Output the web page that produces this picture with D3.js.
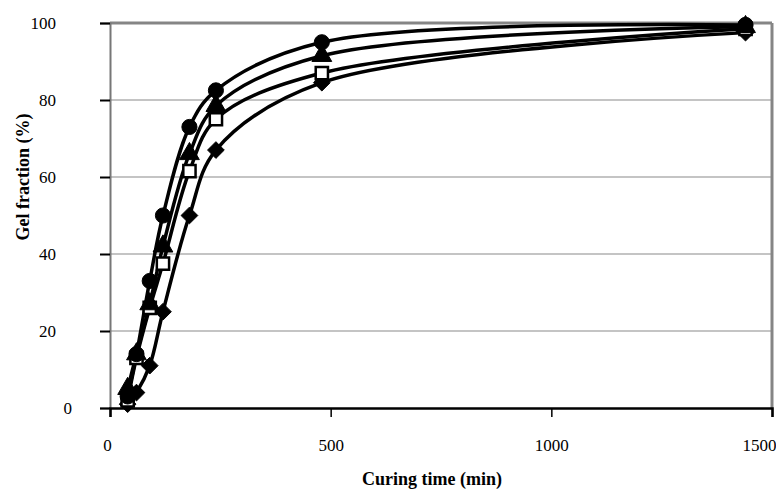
<!DOCTYPE html>
<html>
<head>
<meta charset="utf-8">
<script src="https://cdn.jsdelivr.net/npm/d3@7"></script>
<style>
  body { margin: 0; background: #fff; }
  svg { display: block; }
</style>
</head>
<body>
<div id="canvas"></div>
<script>
const width = 776;
const height = 489;

// curing times (min) shared by all four series
var times = [40, 60, 90, 120, 180, 240, 480, 1440];

var circleVals = [3, 14, 33, 50, 73, 82.5, 95, 99.5];
var triangleVals = [5, 14, 27, 42, 66, 78.5, 91.5, 99];
var squareVals = [2, 13, 26, 37.5, 61.5, 75, 87, 98.5];
var diamondVals = [1, 4, 11, 25, 50, 67, 84.5, 97.5];

var xTicks = [0, 500, 1000, 1500];
var yTicks = [0, 20, 40, 60, 80, 100];

const margin = { left: 110, right: 4, top: 23, bottom: 81 };

const svg = d3.select("#canvas")
    .append("svg")
    .attr("width", width)
    .attr("height", height)
    .style("font-family", "'Liberation Serif', 'Times New Roman', serif");

var x = d3.scaleLinear().domain([0, 1500]).range([margin.left, 772]);
var y = d3.scaleLinear().domain([0, 100]).range([408, margin.top]);

// gridlines
svg.append("g")
    .selectAll("line")
    .data(yTicks.filter(d => d > 0 && d < 100))
    .join("line")
    .attr("x1", x(0))
    .attr("x2", x(1500))
    .attr("y1", d => y(d))
    .attr("y2", d => y(d))
    .attr("stroke", "#c4c4c4")
    .attr("stroke-width", 2);

// plot frame (top and right grey)
svg.append("line")
    .attr("x1", x(0)).attr("x2", x(1500))
    .attr("y1", y(100)).attr("y2", y(100))
    .attr("stroke", "#858585").attr("stroke-width", 3);
svg.append("line")
    .attr("x1", x(1500)).attr("x2", x(1500))
    .attr("y1", y(100)).attr("y2", y(0))
    .attr("stroke", "#858585").attr("stroke-width", 3);

// y axis
var yAxis = svg.append("g")
    .attr("transform", `translate(${x(0)},0)`)
    .call(d3.axisLeft(y).tickValues(yTicks).tickSize(10).tickPadding(44).tickFormat(d3.format("d")));
yAxis.select(".domain").attr("stroke", "#777").attr("stroke-width", 2);
yAxis.selectAll(".tick line").attr("stroke", "#000").attr("stroke-width", 2);
yAxis.selectAll(".tick text")
    .attr("font-family", "'Liberation Serif', serif")
    .attr("font-size", 17)
    .attr("fill", "#000");
yAxis.selectAll(".tick text").filter(d => d === 0).attr("dx", 16);

// x axis
var xAxis = svg.append("g")
    .attr("transform", `translate(0,${y(0)})`)
    .call(d3.axisBottom(x).tickValues(xTicks).tickSize(9).tickPadding(22).tickFormat(d3.format("d")));
xAxis.select(".domain").attr("stroke", "#000").attr("stroke-width", 2.5);
xAxis.selectAll(".tick line").attr("stroke", "#000").attr("stroke-width", 1.5);
xAxis.selectAll(".tick text")
    .attr("font-family", "'Liberation Serif', serif")
    .attr("font-size", 17)
    .attr("fill", "#000");
xAxis.selectAll(".tick text").filter(d => d === 1500).attr("text-anchor", "end").attr("dx", 4);
xAxis.selectAll(".tick text").filter(d => d === 0).attr("dx", -3);

// axis titles
svg.append("text")
    .attr("x", 432)
    .attr("y", 485)
    .attr("text-anchor", "middle")
    .attr("font-size", 18)
    .attr("font-weight", "bold")
    .text("Curing time (min)");

svg.append("text")
    .attr("transform", "translate(29,177) rotate(-90)")
    .attr("text-anchor", "middle")
    .attr("font-size", 18)
    .attr("font-weight", "bold")
    .text("Gel fraction (%)");

var series = [
    { name: "diamond", vals: diamondVals },
    { name: "square", vals: squareVals },
    { name: "triangle", vals: triangleVals },
    { name: "circle", vals: circleVals }
];

var line = d3.line()
    .x(d => x(d[0]))
    .y(d => y(d[1]))
    .curve(d3.curveCatmullRom.alpha(0.5));

series.forEach(function (s) {
    var pts = times.map((t, i) => [t, s.vals[i]]);
    svg.append("path")
        .datum(pts)
        .attr("d", line)
        .attr("fill", "none")
        .attr("stroke", "#000")
        .attr("stroke-width", 3.5);
});

// square-proportioned diamond, like the spreadsheet marker
var wideDiamond = {
    draw: function (context, size) {
        var r = Math.sqrt(size / 2);
        context.moveTo(0, -r);
        context.lineTo(r, 0);
        context.lineTo(0, r);
        context.lineTo(-r, 0);
        context.closePath();
    }
};

var symbolTypes = {
    circle: d3.symbolCircle,
    triangle: d3.symbolTriangle,
    diamond: wideDiamond,
    square: d3.symbolSquare
};
var symbolSizes = { circle: 180, triangle: 170, diamond: 140, square: 150 };

series.forEach(function (s) {
    var pts = times.map((t, i) => [t, s.vals[i]]);
    var sym = d3.symbol().type(symbolTypes[s.name]).size(symbolSizes[s.name]);
    svg.append("g")
        .selectAll("path")
        .data(pts)
        .join("path")
        .attr("transform", d => `translate(${x(d[0])},${y(d[1])})`)
        .attr("d", sym)
        .attr("fill", s.name === "square" ? "#fff" : "#000")
        .attr("stroke", "#000")
        .attr("stroke-width", s.name === "square" ? 2.5 : 1);
});
</script>
</body>
</html>
